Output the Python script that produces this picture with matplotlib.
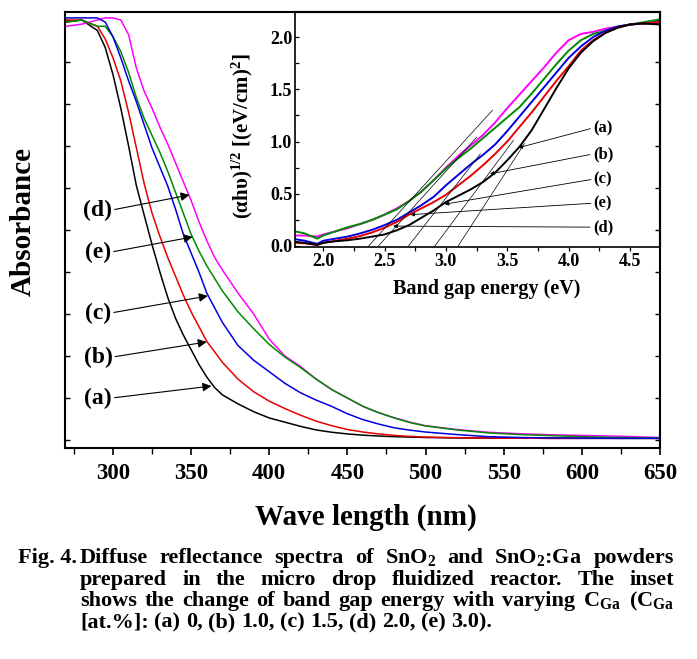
import numpy as np
import matplotlib
matplotlib.use("Agg")
import matplotlib.pyplot as plt
from matplotlib.ticker import MultipleLocator, NullFormatter, FormatStrFormatter

plt.rcParams['font.family'] = ['Liberation Serif', 'DejaVu Serif']
plt.rcParams['font.weight'] = 'bold'
plt.rcParams['axes.labelweight'] = 'bold'
plt.rcParams['mathtext.fontset'] = 'custom'
plt.rcParams['mathtext.rm'] = 'Liberation Serif:bold'
plt.rcParams['mathtext.it'] = 'Liberation Serif:italic:bold'
plt.rcParams['mathtext.bf'] = 'Liberation Serif:bold'

# ---------------- data: main absorbance spectra ----------------
wavelength = [270, 280, 290, 295, 300, 305, 310, 315, 320, 325, 330, 335, 340, 345,
              350, 355, 360, 365, 370, 380, 390, 400, 410, 420, 430, 440, 450, 460,
              470, 480, 490, 500, 520, 540, 560, 580, 600, 625, 650]
abs_a = [1.99, 2.00, 1.95, 1.87, 1.74, 1.58, 1.40, 1.21, 1.07, 0.93, 0.80, 0.68, 0.58, 0.50,
         0.43, 0.36, 0.30, 0.25, 0.215, 0.172, 0.135, 0.105, 0.085, 0.065, 0.048, 0.037, 0.029, 0.023,
         0.019, 0.016, 0.014, 0.012, 0.010, 0.009, 0.009, 0.008, 0.008, 0.008, 0.008]
abs_b = [2.00, 2.00, 1.97, 1.91, 1.82, 1.71, 1.56, 1.39, 1.22, 1.08, 0.97, 0.87, 0.78, 0.69,
         0.61, 0.54, 0.47, 0.42, 0.37, 0.29, 0.23, 0.185, 0.15, 0.118, 0.09, 0.068, 0.05, 0.038,
         0.029, 0.022, 0.017, 0.014, 0.011, 0.009, 0.009, 0.008, 0.008, 0.008, 0.008]
abs_c = [2.01, 2.01, 2.01, 1.99, 1.92, 1.82, 1.71, 1.61, 1.50, 1.39, 1.30, 1.21, 1.10, 0.98,
         0.89, 0.80, 0.70, 0.63, 0.56, 0.45, 0.38, 0.325, 0.27, 0.225, 0.19, 0.16, 0.125, 0.097,
         0.076, 0.058, 0.047, 0.038, 0.026, 0.016, 0.012, 0.010, 0.009, 0.008, 0.008]
abs_d = [1.97, 1.98, 2.00, 2.01, 2.01, 2.00, 1.93, 1.77, 1.66, 1.58, 1.49, 1.41, 1.32, 1.23,
         1.14, 1.04, 0.95, 0.87, 0.81, 0.70, 0.60, 0.48, 0.40, 0.35, 0.29, 0.24, 0.20, 0.16,
         0.13, 0.106, 0.085, 0.068, 0.050, 0.037, 0.030, 0.025, 0.022, 0.018, 0.012]
abs_e = [1.99, 2.00, 1.97, 1.97, 1.92, 1.85, 1.75, 1.63, 1.53, 1.45, 1.37, 1.28, 1.18, 1.08,
         0.98, 0.90, 0.83, 0.77, 0.71, 0.61, 0.53, 0.455, 0.395, 0.345, 0.29, 0.24, 0.20, 0.16,
         0.13, 0.105, 0.083, 0.067, 0.048, 0.034, 0.026, 0.021, 0.016, 0.012, 0.010]

# ---------------- data: inset Tauc plot ----------------
energy = [1.77, 1.85, 1.95, 2.0, 2.1, 2.2, 2.3, 2.4, 2.5, 2.6, 2.7, 2.8, 2.9, 3.0, 3.1,
          3.2, 3.3, 3.4, 3.5, 3.6, 3.7, 3.8, 3.9, 4.0, 4.1, 4.2, 4.3, 4.4, 4.5, 4.6, 4.745]
tauc_a = [0.04, 0.03, 0.01, 0.03, 0.045, 0.055, 0.07, 0.09, 0.11, 0.15, 0.20, 0.27, 0.34, 0.42, 0.48,
          0.54, 0.61, 0.70, 0.82, 0.95, 1.11, 1.31, 1.51, 1.70, 1.85, 1.96, 2.04, 2.09, 2.12, 2.13, 2.12]
tauc_b = [0.03, 0.025, 0.01, 0.03, 0.05, 0.07, 0.095, 0.13, 0.175, 0.23, 0.30, 0.36, 0.42, 0.49, 0.58,
          0.67, 0.77, 0.88, 1.00, 1.14, 1.28, 1.43, 1.58, 1.72, 1.87, 1.97, 2.04, 2.09, 2.12, 2.13, 2.14]
tauc_c = [0.065, 0.05, 0.02, 0.05, 0.07, 0.09, 0.12, 0.155, 0.20, 0.25, 0.32, 0.39, 0.47, 0.58, 0.68,
          0.78, 0.87, 0.97, 1.10, 1.24, 1.38, 1.52, 1.66, 1.80, 1.91, 2.00, 2.06, 2.10, 2.12, 2.13, 2.14]
tauc_d = [0.10, 0.10, 0.09, 0.11, 0.14, 0.17, 0.21, 0.25, 0.30, 0.36, 0.43, 0.52, 0.63, 0.75, 0.86,
          0.96, 1.06, 1.18, 1.32, 1.45, 1.58, 1.71, 1.85, 1.97, 2.03, 2.05, 2.08, 2.10, 2.12, 2.13, 2.15]
tauc_e = [0.14, 0.12, 0.07, 0.10, 0.14, 0.18, 0.21, 0.25, 0.30, 0.35, 0.43, 0.52, 0.63, 0.74, 0.84,
          0.93, 1.03, 1.13, 1.23, 1.33, 1.46, 1.60, 1.74, 1.87, 1.97, 2.03, 2.06, 2.10, 2.12, 2.14, 2.17]

# tangent (extrapolation) lines in inset: x-intercept and upper end point
tangent_x0 = [2.37, 2.45, 2.695, 2.91, 3.10]
tangent_x1 = [3.38, 3.25, 3.28, 3.55, 3.64]
tangent_y1 = [1.30, 1.04, 0.88, 1.01, 0.98]

labels = ['(a)', '(b)', '(c)', '(d)', '(e)']
main_xticks = [300, 350, 400, 450, 500, 550, 600, 650]
inset_xticks = [2.0, 2.5, 3.0, 3.5, 4.0, 4.5]
inset_yticks = [0.0, 0.5, 1.0, 1.5, 2.0]

colors = {'(a)': 'black', '(b)': '#e80000', '(c)': '#0000e0', '(d)': '#ff00ff', '(e)': '#008a00'}
main_series = {'(a)': abs_a, '(b)': abs_b, '(c)': abs_c, '(d)': abs_d, '(e)': abs_e}
inset_series = {'(a)': tauc_a, '(b)': tauc_b, '(c)': tauc_c, '(d)': tauc_d, '(e)': tauc_e}

W, H = 697, 659
fig = plt.figure(figsize=(W / 100, H / 100), dpi=100)

def px_axes(l, t, r, b):
    return [l / W, 1 - b / H, (r - l) / W, (b - t) / H]

# ---------------- main axes ----------------
ax = fig.add_axes(px_axes(65, 12, 660, 448))
for key in ['(a)', '(b)', '(d)', '(e)', '(c)']:
    ax.plot(wavelength, main_series[key], color=colors[key], lw=1.1)
ax.set_xlim(269.3, 650)
ax.set_ylim(-0.038, 2.038)
ax.set_xticks(main_xticks)
ax.xaxis.set_minor_locator(MultipleLocator(25))
ax.yaxis.set_major_locator(MultipleLocator(0.2))
ax.yaxis.set_major_formatter(NullFormatter())
ax.tick_params(axis='x', which='major', direction='out', length=5, width=1.2,
               labelsize=16.5, pad=6)
ax.tick_params(axis='x', which='minor', direction='out', length=4, width=1.0)
ax.tick_params(axis='y', which='major', direction='in', length=3.5, width=1.0,
               left=True, right=True)
for lab in ax.get_xticklabels():
    lab.set_fontweight('bold')
for s in ax.spines.values():
    s.set_linewidth(1.5)
ax.set_xlabel('Wave length (nm)', fontsize=21, fontweight='bold')
ax.xaxis.set_label_coords(0.506, -0.128)
ax.set_ylabel('Absorbance', fontsize=21, fontweight='bold')
ax.yaxis.set_label_coords(-0.048, 0.52)

main_ann = {'(d)': ((290.0, 1.095), (349.0, 1.167)),
            '(e)': ((290.4, 0.895), (351.0, 0.967)),
            '(c)': ((290.4, 0.605), (360.7, 0.686)),
            '(b)': ((290.4, 0.395), (360.0, 0.467)),
            '(a)': ((290.4, 0.200), (363.0, 0.257))}
for key, (txy, tip) in main_ann.items():
    ax.annotate(key, xy=tip, xytext=txy, ha='center', va='center',
                fontsize=17, fontweight='bold',
                arrowprops=dict(arrowstyle='-|>', color='black', lw=0.8,
                                mutation_scale=13, shrinkA=0, shrinkB=0,
                                relpos=(1.0, 0.5)))

# ---------------- inset ----------------
axi = fig.add_axes(px_axes(295, 12, 660, 247))
axi.patch.set_alpha(0.0)
for key in ['(d)', '(e)', '(c)', '(b)', '(a)']:
    axi.plot(energy, inset_series[key], color=colors[key], lw=1.4)
for x0, x1, y1 in zip(tangent_x0, tangent_x1, tangent_y1):
    axi.plot([x0, x1], [0, y1], color='black', lw=0.5)
axi.set_xlim(1.77, 4.745)
axi.set_ylim(-0.01, 2.24)
axi.set_xticks(inset_xticks)
axi.set_yticks(inset_yticks)
axi.xaxis.set_minor_locator(MultipleLocator(0.25))
axi.yaxis.set_minor_locator(MultipleLocator(0.25))
axi.xaxis.set_major_formatter(FormatStrFormatter('%.1f'))
axi.yaxis.set_major_formatter(FormatStrFormatter('%.1f'))
axi.tick_params(axis='x', which='both', direction='out', length=3, width=0.9,
                labelsize=13, pad=1)
axi.tick_params(axis='y', which='both', direction='in', length=3, width=0.9,
                labelsize=13, pad=2)
for lab in axi.get_xticklabels() + axi.get_yticklabels():
    lab.set_fontweight('bold')
for s in axi.spines.values():
    s.set_linewidth(1.2)
axi.spines['top'].set_linewidth(1.5)
axi.spines['right'].set_linewidth(1.5)
axi.set_xlabel('Band gap energy (eV)', fontsize=14.5, fontweight='bold')
axi.xaxis.set_label_coords(0.526, -0.135)
axi.set_ylabel(r'(αhυ)$^{1/2}$ [(eV/cm)$^{2}$]', fontsize=15, fontweight='bold')
axi.yaxis.set_label_coords(-0.11, 0.47)

inset_ann = {'(a)': ((4.28, 1.13), (3.59, 0.94)),
             '(b)': ((4.28, 0.88), (3.36, 0.69)),
             '(c)': ((4.28, 0.64), (2.99, 0.40)),
             '(e)': ((4.28, 0.41), (2.71, 0.30)),
             '(d)': ((4.28, 0.18), (2.57, 0.19))}
for key, (txy, tip) in inset_ann.items():
    axi.annotate(key, xy=tip, xytext=txy, ha='center', va='center',
                 fontsize=12, fontweight='bold',
                 arrowprops=dict(arrowstyle='-|>', color='black', lw=0.6,
                                 mutation_scale=6, shrinkA=0, shrinkB=0,
                                 relpos=(0.0, 0.5)))

# ---------------- caption (justified) ----------------
cap_fs = 16
renderer = fig.canvas.get_renderer()

def put_line(words, y_px, x_left, x_right, justify=True):
    ts = [fig.text(0, 1 - y_px / H, w, fontsize=cap_fs, fontweight='bold',
                   ha='left', va='baseline') for w in words]
    widths = [t.get_window_extent(renderer=renderer).width for t in ts]
    if justify and len(ts) > 1:
        gap = (x_right - x_left - sum(widths)) / (len(ts) - 1)
    else:
        gap = cap_fs * 100 / 72 * 0.25
    x = x_left
    for t, wd in zip(ts, widths):
        t.set_x(x / W)
        x += wd + gap

fig.text(18 / W, 1 - 563 / H, 'Fig. 4.', fontsize=cap_fs, fontweight='bold',
         ha='left', va='baseline')
put_line(['Diffuse', 'reflectance', 'spectra', 'of', r'SnO$_2$', 'and', r'SnO$_2$:Ga', 'powders'],
         563, 80, 674)
put_line(['prepared', 'in', 'the', 'micro', 'drop', 'fluidized', 'reactor.', 'The', 'inset'],
         585, 80, 674)
put_line(['shows', 'the', 'change', 'of', 'band', 'gap', 'energy', 'with', 'varying',
          r'C$_\mathrm{Ga}$', r'(C$_\mathrm{Ga}$'], 606, 80, 674)
put_line(['[at.%]:', '(a)', '0,', '(b)', '1.0,', '(c)', '1.5,', '(d)', '2.0,', '(e)', '3.0).'],
         627, 80, 674, justify=False)

fig.savefig('out.png', dpi=100)
